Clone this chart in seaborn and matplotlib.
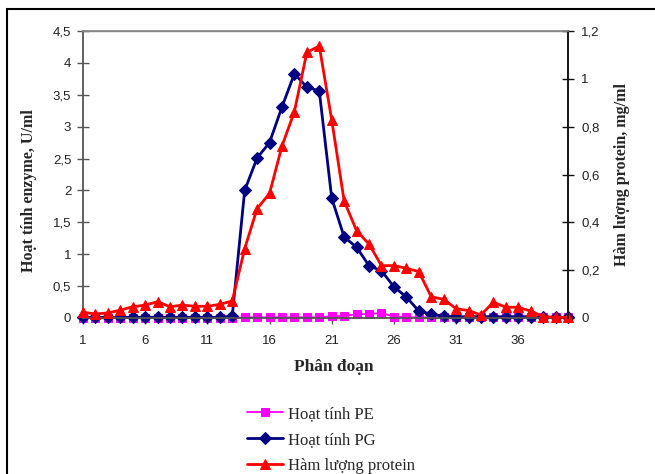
import matplotlib
matplotlib.use("Agg")
import matplotlib.pyplot as plt
import seaborn as sns
from matplotlib.patches import Rectangle
from matplotlib.ticker import FixedLocator, FixedFormatter

# ---- data ----
fractions = list(range(1, 41))
pe_activity = [0.0, 0.0, 0.0, 0.0, 0.0, 0.0, 0.0, 0.0, 0.0, 0.0,
               0.0, 0.0, 0.0, 0.01, 0.01, 0.01, 0.01, 0.01, 0.01, 0.01,
               0.03, 0.03, 0.06, 0.06, 0.08, 0.02, 0.01, 0.01, 0.01, 0.01,
               0.01, 0.01, 0.01, 0.01, 0.01, 0.01, 0.01, 0.01, 0.01, 0.01]
pg_activity = [0.01, 0.01, 0.01, 0.01, 0.01, 0.01, 0.01, 0.01, 0.01, 0.01,
               0.01, 0.01, 0.03, 2.0, 2.51, 2.75, 3.31, 3.83, 3.62, 3.56,
               1.88, 1.27, 1.11, 0.82, 0.74, 0.49, 0.33, 0.11, 0.06, 0.03,
               0.02, 0.02, 0.02, 0.02, 0.02, 0.02, 0.02, 0.01, 0.01, 0.01]
protein = [0.024, 0.017, 0.021, 0.033, 0.047, 0.054, 0.068, 0.047, 0.054, 0.049,
           0.049, 0.057, 0.071, 0.29, 0.457, 0.521, 0.719, 0.863, 1.111, 1.137,
           0.828, 0.489, 0.365, 0.309, 0.219, 0.219, 0.208, 0.194, 0.089, 0.078,
           0.039, 0.031, 0.013, 0.066, 0.045, 0.045, 0.029, 0.006, 0.003, 0.003]

x_ticks = [1, 6, 11, 16, 21, 26, 31, 36]
x_ticklabels = ["1", "6", "11", "16", "21", "26", "31", "36"]
left_ticks = [0, 0.5, 1, 1.5, 2, 2.5, 3, 3.5, 4, 4.5]
left_ticklabels = ["0", "0,5", "1", "1,5", "2", "2,5", "3", "3,5", "4", "4,5"]
right_ticks = [0, 0.2, 0.4, 0.6, 0.8, 1.0, 1.2]
right_ticklabels = ["0", "0,2", "0,4", "0,6", "0,8", "1", "1,2"]

labels = ["Hoạt tính PE", "Hoạt tính PG", "Hàm lượng protein"]
colors = ["#FF00FF", "#000080", "#FF0000"]

# ---- figure ----
sns.set_theme(style="white")
plt.rcParams["font.family"] = ["Liberation Sans", "DejaVu Sans"]

W, H = 655, 474
fig = plt.figure(figsize=(W / 100, H / 100), dpi=100)
fig.patch.set_facecolor("white")

L, R, T, B = 83, 568, 31, 318
ax = fig.add_axes([L / W, 1 - B / H, (R - L) / W, (B - T) / H])
ax2 = ax.twinx()
ax.set_zorder(1)
ax2.set_zorder(2)
ax.patch.set_visible(False)
ax2.patch.set_visible(False)

sns.lineplot(x=fractions, y=pe_activity, ax=ax, color=colors[0], marker="s",
             markersize=5.5, markeredgecolor=colors[0], linewidth=1.3,
             label=labels[0], legend=False, clip_on=False)
sns.lineplot(x=fractions, y=pg_activity, ax=ax, color=colors[1], marker="D",
             markersize=6.5, markeredgecolor=colors[1], linewidth=2,
             label=labels[1], legend=False, clip_on=False)
sns.lineplot(x=fractions, y=protein, ax=ax2, color=colors[2], marker="^",
             markersize=7, markeredgecolor=colors[2], linewidth=2,
             label=labels[2], legend=False, clip_on=False)

ax.set_xlim(1, 40)
ax.set_ylim(0, 4.5)
ax2.set_ylim(0, 1.2)

ax.xaxis.set_major_locator(FixedLocator(x_ticks))
ax.xaxis.set_major_formatter(FixedFormatter(x_ticklabels))
ax.yaxis.set_major_locator(FixedLocator(left_ticks))
ax.yaxis.set_major_formatter(FixedFormatter(left_ticklabels))
ax2.yaxis.set_major_locator(FixedLocator(right_ticks))
ax2.yaxis.set_major_formatter(FixedFormatter(right_ticklabels))

tick_col = "#222222"
ax.tick_params(axis="x", direction="out", length=4, width=1, color="#555555",
               labelsize=9.5, pad=8, labelcolor=tick_col, bottom=True)
ax.tick_params(axis="y", direction="inout", length=9, width=1, color="#555555",
               labelsize=9.5, pad=4, labelcolor=tick_col, left=True)
ax2.tick_params(axis="y", direction="inout", length=9, width=1, color="#111111",
                labelsize=9.5, pad=5, labelcolor=tick_col, right=True)

for a in (ax, ax2):
    for s in a.spines.values():
        s.set_visible(True)
ax.spines["top"].set_color("#888888")
ax.spines["top"].set_linewidth(1)
ax.spines["left"].set_color("#555555")
ax.spines["left"].set_linewidth(1.3)
ax.spines["bottom"].set_color("#555555")
ax.spines["bottom"].set_linewidth(1.3)
ax2.spines["right"].set_color("#111111")
ax2.spines["right"].set_linewidth(1.2)
ax2.spines["top"].set_color("#888888")
ax2.spines["left"].set_visible(False)
ax2.spines["bottom"].set_visible(False)
ax.set_xlabel("")
ax.set_ylabel("")
ax2.set_ylabel("")

serif = ["Liberation Serif", "DejaVu Serif"]
fig.text(334 / W, 1 - 367 / H, "Phân đoạn", family=serif, weight="bold",
         fontsize=12.5, ha="center", va="center")
fig.text(29 / W, 1 - 191 / H, "Hoạt tính enzyme, U/ml", family=serif,
         weight="bold", fontsize=11.5, ha="center", va="center", rotation=90)
fig.text(622 / W, 1 - 174 / H, "Hàm lượng protein, mg/ml", family=serif,
         weight="bold", fontsize=11.5, ha="center", va="center", rotation=90)

handles = ax.get_lines()[:2] + ax2.get_lines()[:1]
fig.legend(handles, labels, loc="upper left",
           bbox_to_anchor=(240 / W, 1 - 399 / H), frameon=False,
           prop={"family": serif, "size": 12}, handlelength=2.2,
           handletextpad=0.25, labelspacing=0.6, borderaxespad=0)

# outer chart frame (extends beyond the image on right and bottom)
fig.patches.append(Rectangle((7 / W, -0.1), 1.2, 1 - 9 / H + 0.1,
                             transform=fig.transFigure, fill=False,
                             edgecolor="black", linewidth=1.5))

fig.savefig("out.png", dpi=100, facecolor="white")
